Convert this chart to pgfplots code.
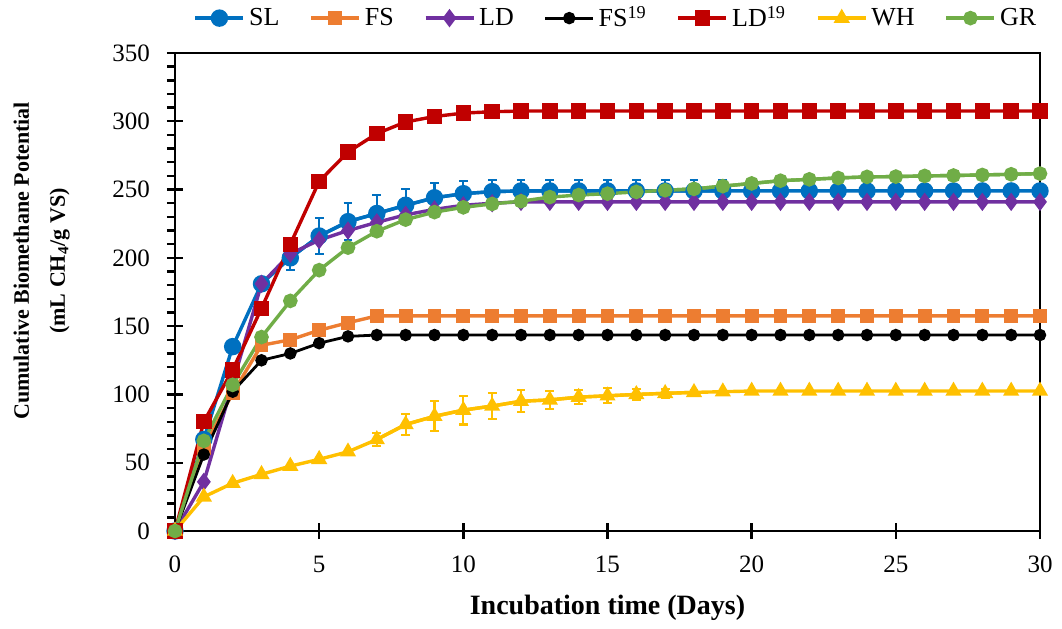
\documentclass[border=0pt]{standalone}
\usepackage{fontspec}
\setmainfont{Liberation Serif}
\usepackage{pgfplots}
\pgfplotsset{compat=1.18}
\usepackage{pgfplotstable}

\definecolor{cSL}{HTML}{0070C0}
\definecolor{cFS}{HTML}{ED7D31}
\definecolor{cLD}{HTML}{7030A0}
\definecolor{cFSn}{HTML}{000000}
\definecolor{cLDn}{HTML}{C00000}
\definecolor{cWH}{HTML}{FFC000}
\definecolor{cGR}{HTML}{70AD47}

\pgfplotstableread{
d SL FS LD FSn LDn WH GR
0 0 0 0 0 0 0 0
1 67 61 36 56 80 25 66
2 135 101 108 102 118 35 107
3 181 136 181 125 163 41.5 142
4 200 140 203 130 210 47.5 168.5
5 216 147 213 137.5 256 52.5 191
6 226.5 152.5 220 142.5 277.5 58 207.5
7 232.5 157.5 226 143.5 291 67 219.5
8 238.5 157.5 231.5 143.5 299.5 78 228
9 244 157.5 235.5 143.5 303.5 84 233.5
10 247 157.5 238.5 143.5 306 88.5 237
11 248.5 157.5 240 143.5 307 91.5 239.5
12 249 157.5 241 143.5 307.5 95 241.5
13 249 157.5 241 143.5 307.5 96 244.5
14 249 157.5 241 143.5 307.5 98 246
15 249 157.5 241 143.5 307.5 99 247
16 249 157.5 241 143.5 307.5 100 248.3
17 249 157.5 241 143.5 307.5 100.8 249.5
18 249 157.5 241 143.5 307.5 101.5 250.5
19 249 157.5 241 143.5 307.5 102 252.5
20 249 157.5 241 143.5 307.5 102.5 254.5
21 249 157.5 241 143.5 307.5 102.5 256.5
22 249 157.5 241 143.5 307.5 102.5 257.5
23 249 157.5 241 143.5 307.5 102.5 258.5
24 249 157.5 241 143.5 307.5 102.5 259.3
25 249 157.5 241 143.5 307.5 102.5 259.5
26 249 157.5 241 143.5 307.5 102.5 260
27 249 157.5 241 143.5 307.5 102.5 260.3
28 249 157.5 241 143.5 307.5 102.5 260.7
29 249 157.5 241 143.5 307.5 102.5 261.2
30 249 157.5 241 143.5 307.5 102.5 261.7
}\datatable

\pgfplotstableread{
d v e
4 200 9
5 216 13
6 226.5 13.5
7 232.5 13.5
8 238.5 12
9 244 11
10 247 9.5
11 248.5 8.5
12 249 8
13 249 8
14 249 8
15 249 8
16 249 8
17 249 8
18 249 8
19 249 8
}\errSL

\pgfplotstableread{
d v e
7 67 5
8 78 7.5
9 84 11
10 88.5 10.5
11 91.5 9.3
12 95 8
13 96 6.5
14 98 5
15 99 5.5
16 100 3.7
17 100.8 3.3
18 101.5 2
}\errWH

\pgfplotstableread{
d v e
17 249.5 3
18 250.5 3
19 252.5 3
20 254.5 3
21 256.5 3
22 257.5 3
23 258.5 3
24 259.3 3
25 259.5 3
26 260 3
27 260.3 3
28 260.7 3
29 261.2 3
30 261.7 3
}\errGR

\begin{document}
\begin{tikzpicture}
\useasboundingbox (-87.5pt,-48.5pt) rectangle (443.5pt,265.5pt);
\begin{axis}[
  scale only axis,
  width=432.5pt, height=239pt,
  xmin=0, xmax=30, ymin=0, ymax=350,
  xtick={0,5,...,30},
  ytick={0,50,...,350},
  minor y tick num=4,
  tick pos=left,
  tick align=center,
  major tick length=8pt,
  minor tick length=4pt,
  minor y tick style={xshift=-2pt},
  tick style={black, line width=1.2pt},
  axis line style={black, line width=1.4pt},
  clip=false,
  /pgf/number format/assume math mode=true,
  ticklabel style={font=\fontsize{12.5}{14}\selectfont},
  yticklabel style={xshift=-5pt},
  xticklabel style={yshift=-5pt},
  xlabel={Incubation time (Days)},
  xlabel style={font=\fontsize{14}{16}\selectfont\bfseries, at={(axis description cs:0.5,-0.16)}, anchor=center},
  ylabel={Cumulative Biomethane Potential\\[5pt](mL CH\textsubscript{4}/g VS)},
  ylabel style={font=\fontsize{11}{13}\selectfont\bfseries, align=center, at={(axis description cs:-0.154,0.565)}, anchor=center, rotate=0},
  legend columns=7,
  legend style={draw=none, fill=none, at={(axis description cs:0.511,1.073)}, anchor=center,
    font=\fontsize{13}{15}\selectfont,
    /tikz/every even column/.append style={column sep=13pt}},
  legend image code/.code={\draw[mark repeat=2, mark phase=2] plot coordinates {(0pt,0pt)(12pt,0pt)(24pt,0pt)};},
  every axis plot/.append style={line width=1.7pt},
]
% error bars (drawn first)
\addplot[forget plot, color=cSL, mark=none, line width=1.7pt,
  error bars/.cd, y dir=both, y explicit,
  error bar style={line width=1.1pt, cSL},
  error mark options={rotate=90, line width=1.1pt, mark size=2.2pt, cSL}]
  table[x=d, y=v, y error=e] {\errSL};
\addplot[forget plot, color=cWH, mark=none, line width=1.7pt,
  error bars/.cd, y dir=both, y explicit,
  error bar style={line width=1.1pt, cWH},
  error mark options={rotate=90, line width=1.1pt, mark size=2.2pt, cWH}]
  table[x=d, y=v, y error=e] {\errWH};

\addplot[color=cSL, mark=*, mark size=3.5pt, mark options={solid, fill=cSL}] table[x=d, y=SL] {\datatable};
\addlegendentry{SL}
\addplot[color=cFS, mark=square*, mark size=2.6pt, mark options={solid, fill=cFS}] table[x=d, y=FS] {\datatable};
\addlegendentry{FS}
\addplot[color=cLD, mark=diamond*, mark size=3.2pt, mark options={solid, fill=cLD}] table[x=d, y=LD] {\datatable};
\addlegendentry{LD}
\addplot[color=cFSn, line width=1.4pt, mark=*, mark size=2.4pt, mark options={solid, fill=cFSn}] table[x=d, y=FSn] {\datatable};
\addlegendentry{FS\textsuperscript{19}}
\addplot[color=cLDn, mark=square*, mark size=3pt, mark options={solid, fill=cLDn}] table[x=d, y=LDn] {\datatable};
\addlegendentry{LD\textsuperscript{19}}
\addplot[color=cWH, mark=triangle*, mark size=3pt, mark options={solid, fill=cWH}] table[x=d, y=WH] {\datatable};
\addlegendentry{WH}
\addplot[forget plot, color=cGR, mark=none, line width=1.7pt,
  error bars/.cd, y dir=both, y explicit,
  error bar style={line width=1.1pt, cGR},
  error mark options={rotate=90, line width=1.1pt, mark size=2.5pt, cGR}]
  table[x=d, y=v, y error=e] {\errGR};
\addplot[color=cGR, mark=*, mark size=2.8pt, mark options={solid, fill=cGR}] table[x=d, y=GR] {\datatable};
\addlegendentry{GR}
\end{axis}
\end{tikzpicture}
\end{document}
